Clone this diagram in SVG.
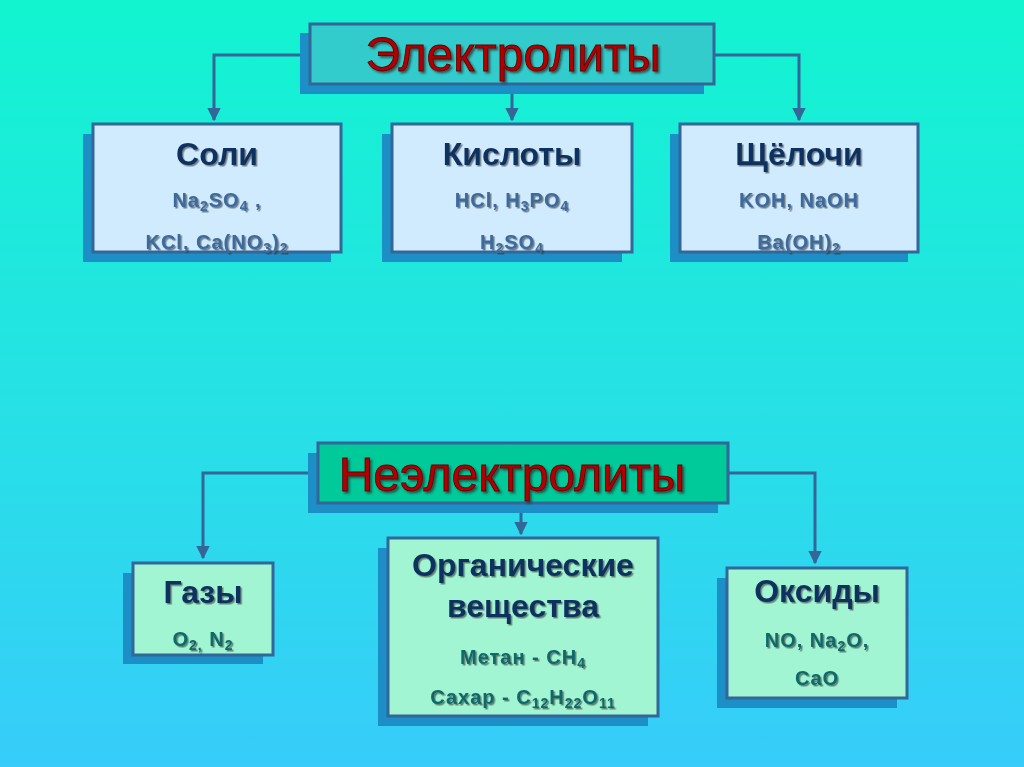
<svg xmlns="http://www.w3.org/2000/svg" width="1024" height="767" viewBox="0 0 1024 767">
  <defs>
    <linearGradient id="bg" x1="0" y1="0" x2="0" y2="1">
      <stop offset="0" stop-color="#12F4D0"/>
      <stop offset="0.55" stop-color="#27E0E6"/>
      <stop offset="1" stop-color="#37CCFA"/>
    </linearGradient>
    <filter id="ts" x="-10%" y="-20%" width="120%" height="140%">
      <feDropShadow dx="1.5" dy="1.5" stdDeviation="0.6" flood-color="#333333" flood-opacity="0.6"/>
    </filter>
    <filter id="ts2" x="-10%" y="-20%" width="120%" height="140%">
      <feDropShadow dx="2" dy="2" stdDeviation="0.8" flood-color="#2a2a2a" flood-opacity="0.7"/>
    </filter>
    <marker id="arr" viewBox="0 0 10 10" refX="9" refY="5" markerWidth="4.5" markerHeight="4.5" orient="auto" markerUnits="strokeWidth">
      <path d="M0,0 L10,5 L0,10 z" fill="#336699"/>
    </marker>
  </defs>
  <style>
    .shadow { fill: #1B8FC6; }
    .box { stroke: #336699; stroke-width: 3; }
    .blue { fill: #D0EBFD; }
    .mint { fill: #A2F5D2; }
    .head { font-family: "Liberation Sans", Arial, sans-serif; font-size: 48px; fill: #B00000; stroke: #5a0000; stroke-width: 0.8; text-anchor: middle; }
    .title { font-family: "Liberation Sans", Arial, sans-serif; font-weight: bold; font-size: 32px; fill: #10305E; text-anchor: middle; }
    .sub { font-family: "Liberation Sans", Arial, sans-serif; font-weight: bold; font-size: 20px; letter-spacing: 1px; text-anchor: middle; }
    .sb { fill: #3E6A9C; }
    .sg { fill: #11696B; }
    .conn { fill: none; stroke: #336699; stroke-width: 3; }
  </style>

  <rect x="0" y="0" width="1024" height="767" fill="url(#bg)"/>

  <g id="connectors">
    <path class="conn" d="M310,55 H214 V120" marker-end="url(#arr)"/>
    <path class="conn" d="M714,55 H799 V120" marker-end="url(#arr)"/>
    <path class="conn" d="M512,84 V120" marker-end="url(#arr)"/>
    <path class="conn" d="M318,473 H203 V558" marker-end="url(#arr)"/>
    <path class="conn" d="M728,473 H815 V563" marker-end="url(#arr)"/>
    <path class="conn" d="M521,503 V534" marker-end="url(#arr)"/>
  </g>

  <g id="electrolytes">
    <rect class="shadow" x="300" y="33" width="404" height="61"/>
    <rect class="box" x="310" y="24" width="404" height="60" fill="#33CCCC"/>
    <text class="head" x="513" y="71" filter="url(#ts2)">Электролиты</text>
  </g>

  <g id="salts">
    <rect class="shadow" x="83" y="134" width="248" height="128"/>
    <rect class="box blue" x="93" y="124" width="248" height="128"/>
    <text class="title" x="217" y="165" filter="url(#ts)">Соли</text>
    <text class="sub sb" x="217" y="207" filter="url(#ts)">Na<tspan font-size="14" dy="4">2</tspan><tspan dy="-4">SO</tspan><tspan font-size="14" dy="4">4</tspan><tspan dy="-4"> ,</tspan></text>
    <text class="sub sb" x="217" y="249" filter="url(#ts)">KCl, Ca(NO<tspan font-size="14" dy="4">3</tspan><tspan dy="-4">)</tspan><tspan font-size="14" dy="4">2</tspan></text>
  </g>

  <g id="acids">
    <rect class="shadow" x="382" y="134" width="240" height="128"/>
    <rect class="box blue" x="392" y="124" width="240" height="128"/>
    <text class="title" x="512" y="165" filter="url(#ts)">Кислоты</text>
    <text class="sub sb" x="512" y="207" filter="url(#ts)">HCl, H<tspan font-size="14" dy="4">3</tspan><tspan dy="-4">PO</tspan><tspan font-size="14" dy="4">4</tspan></text>
    <text class="sub sb" x="512" y="249" filter="url(#ts)">H<tspan font-size="14" dy="4">2</tspan><tspan dy="-4">SO</tspan><tspan font-size="14" dy="4">4</tspan></text>
  </g>

  <g id="alkalis">
    <rect class="shadow" x="670" y="134" width="238" height="128"/>
    <rect class="box blue" x="680" y="124" width="238" height="128"/>
    <text class="title" x="799" y="165" filter="url(#ts)">Щёлочи</text>
    <text class="sub sb" x="799" y="207" filter="url(#ts)">KOH, NaOH</text>
    <text class="sub sb" x="799" y="249" filter="url(#ts)">Ba(OH)<tspan font-size="14" dy="4">2</tspan></text>
  </g>

  <g id="nonelectrolytes">
    <rect class="shadow" x="308" y="453" width="410" height="60"/>
    <rect class="box" x="318" y="443" width="410" height="60" fill="#00C99A"/>
    <text class="head" x="512" y="491" filter="url(#ts2)" font-size="50">Неэлектролиты</text>
  </g>

  <g id="gases">
    <rect class="shadow" x="123" y="573" width="140" height="91"/>
    <rect class="box mint" x="133" y="563" width="140" height="92"/>
    <text class="title" x="203" y="603" filter="url(#ts)">Газы</text>
    <text class="sub sg" x="203" y="646" filter="url(#ts)">O<tspan font-size="14" dy="4">2,</tspan><tspan dy="-4"> N</tspan><tspan font-size="14" dy="4">2</tspan></text>
  </g>

  <g id="organic">
    <rect class="shadow" x="378" y="548" width="270" height="178"/>
    <rect class="box mint" x="388" y="538" width="270" height="178"/>
    <text class="title" x="523" y="576" filter="url(#ts)">Органические</text>
    <text class="title" x="523" y="617" filter="url(#ts)">вещества</text>
    <text class="sub sg" x="523" y="664" filter="url(#ts)">Метан  - CH<tspan font-size="14" dy="4">4</tspan></text>
    <text class="sub sg" x="523" y="704" filter="url(#ts)">Сахар - C<tspan font-size="14" dy="4">12</tspan><tspan dy="-4">H</tspan><tspan font-size="14" dy="4">22</tspan><tspan dy="-4">O</tspan><tspan font-size="14" dy="4">11</tspan></text>
  </g>

  <g id="oxides">
    <rect class="shadow" x="717" y="578" width="180" height="130"/>
    <rect class="box mint" x="727" y="568" width="180" height="130"/>
    <text class="title" x="817" y="602" filter="url(#ts)">Оксиды</text>
    <text class="sub sg" x="817" y="647" filter="url(#ts)">NO, Na<tspan font-size="14" dy="4">2</tspan><tspan dy="-4">O,</tspan></text>
    <text class="sub sg" x="817" y="685" filter="url(#ts)">CaO</text>
  </g>
</svg>
